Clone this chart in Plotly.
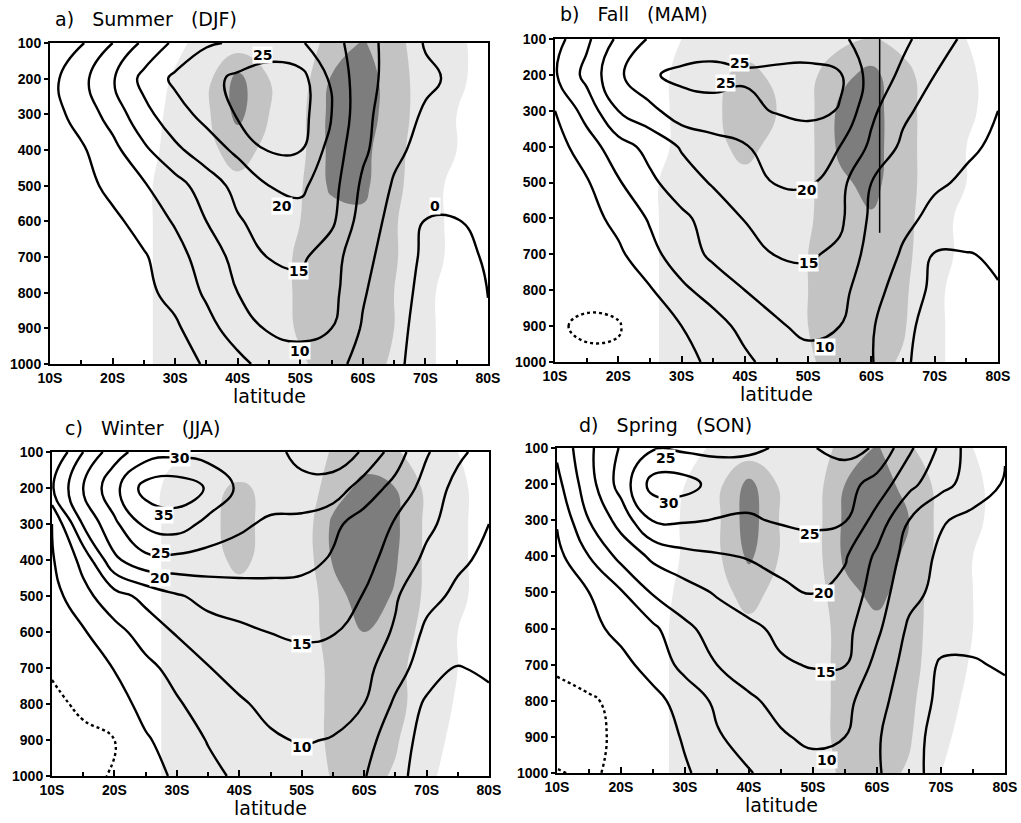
import plotly.graph_objects as go

# ---------------- data ----------------
LAT = [10, 15, 20, 25, 30, 35, 40, 45, 50, 55, 60, 65, 70, 75, 80]
PLEV = [100, 200, 300, 400, 500, 600, 700, 800, 900, 1000]
LAT_TICKS = [10, 20, 30, 40, 50, 60, 70, 80]
LAT_TICK_TEXT = ["10S", "20S", "30S", "40S", "50S", "60S", "70S", "80S"]
P_TICKS = [100, 200, 300, 400, 500, 600, 700, 800, 900, 1000]

# zonal wind (m/s), rows = pressure levels, columns = latitudes
U_DJF = [
    [-3, -0.5, 5, 11, 16, 19.5, 20.5, 21, 20.5, 17, 12, 8, 4.7, 3.5, 3],
    [-1.5, 3.5, 9.5, 16.5, 21, 23.5, 26, 28.5, 27, 19, 12, 8, 5.8, 4.2, 3.5],
    [-2, 2, 7, 13.5, 18, 21.5, 25.5, 28, 27, 20, 11.5, 7, 4.5, 3.5, 3],
    [-3, -0.7, 3.5, 9, 14, 17.5, 21, 25.3, 25.2, 18, 11, 6, 3.5, 3, 2.5],
    [-4, -2, 1.5, 4.5, 8, 12.5, 16.5, 20, 21, 17, 9, 4.5, 3, 2.5, 2],
    [-4.5, -3, -1.2, 2, 5.5, 10, 14.5, 17, 18, 16, 7.5, 3.5, -0.2, -0.2, 1],
    [-4.5, -3.5, -2, -0.5, 3, 7.5, 11.5, 15.2, 16, 12, 6.5, 2.5, -0.8, -0.8, 0.3],
    [-4.5, -4, -2.5, -1.2, 1.5, 5.8, 10, 12, 13, 11.5, 5.5, 1.5, -1, -1.5, 0.2],
    [-4.6, -4.5, -3, -2, -0.8, 3.2, 7.5, 10.5, 11.2, 10, 4.5, 1, -1.2, -1.5, -1.2],
    [-4.6, -4.6, -4, -3, -2, 0.5, 3.5, 7, 8, 6.5, 3.5, 0.5, -1, -1.2, -1.2],
]
U_MAM = [
    [3, 9, 16, 20.5, 22, 22.5, 23, 22.5, 22, 21, 17.5, 16, 12.5, 9, 7.5],
    [4.5, 11.5, 19, 24.5, 26, 26.5, 25.5, 26, 26.5, 25.5, 18, 14, 10, 8, 6.5],
    [0, 7, 15, 18.5, 23, 23.5, 24, 25.3, 26, 24.8, 16, 11, 8, 6.5, 5],
    [-2, 2.5, 8, 11.5, 15.5, 18, 19.7, 21.5, 22.5, 20, 14, 9, 6.5, 5.5, 4.5],
    [-3.5, -0.5, 4.5, 9, 12.5, 15.5, 18, 20.3, 20.5, 16.5, 10, 7, 5.5, 4.5, 3.5],
    [-4, -2, 1.5, 5.5, 9, 12, 15.2, 16.5, 17.5, 16, 9, 6, 4, 3, 2.5],
    [-4, -3, -1, 3.5, 7.5, 11, 13.5, 15.2, 15.6, 14, 8, 4.5, -0.3, -0.2, 0.5],
    [-4.5, -4.3, -3.5, -0.5, 4, 7, 10, 11.5, 13, 11.5, 7, 2.5, -1, -1, -0.2],
    [-4.7, -5.4, -5.3, -2, 0, 3, 6.5, 9.5, 11, 10, 5.5, 1, -1.5, -1.5, -1.5],
    [-4.5, -4.5, -4.3, -3, -1.5, 1, 4, 7, 8.5, 7.5, 5.3, 0.5, -1.5, -1.5, -1.5],
]
U_JJA = [
    [5, 15, 23, 27.5, 28.5, 28, 27.5, 28.5, 31.5, 32.5, 29.5, 22.5, 15.5, 11, 8],
    [9.5, 20, 28.5, 37, 38, 34.5, 29, 28, 28.5, 28, 22.5, 18.5, 13, 8.5, 5.5],
    [0, 15.5, 24, 31, 32.5, 28.5, 26, 24, 23.5, 21, 18, 14.5, 11, 8, 5],
    [-0.5, 6.5, 19, 23.5, 23.5, 23, 22.5, 22, 21.5, 19.5, 16.5, 13, 9, 5.8, 4],
    [-2, 3.5, 8, 11.5, 14.5, 16.5, 17.5, 18, 18, 17, 14.8, 10.5, 6.5, 4, 3],
    [-3, -0.5, 3.5, 7, 10.5, 13, 14, 15.1, 15.8, 15.3, 12.5, 9.5, 4, 2.5, 2],
    [-4.5, -3, 0.2, 3.8, 6.5, 9.8, 11.5, 12.5, 13, 13, 11.5, 7, 2.5, -0.3, 1],
    [-6, -4.2, -2, 1.5, 4.5, 7, 9.5, 11, 11.8, 11.5, 10, 4.2, -0.8, -1.5, -1.5],
    [-7, -6, -5, -0.5, 2, 5.3, 8, 9.5, 10.3, 9.8, 7, 2, -1.5, -2, -2],
    [-7, -6.5, -4.5, -2, 0.8, 3.5, 6, 7.5, 8, 7, 5.3, 1, -1.5, -2, -2],
]
U_SON = [
    [6, 14, 20.5, 24.5, 24, 24, 24.5, 25.3, 29.8, 31.5, 29.5, 21, 14, 7.5, 5.5],
    [3.5, 13, 22, 32, 32, 28, 27, 27, 27.5, 27, 23, 16.5, 11.5, 8, 4.5],
    [0.5, 10, 17, 25.3, 25.5, 24.8, 24.5, 25.5, 26, 25.3, 18, 10, 5.5, 3.5, 2.5],
    [-1.5, 5, 11.5, 16, 18.5, 19.5, 20.3, 21.5, 22.5, 20.5, 14, 8, 4, 2.5, 1.5],
    [-2.5, 0, 4.5, 10.5, 13, 15.5, 17.5, 19, 20.1, 18.5, 12.5, 6.5, 3.5, 2, 1.5],
    [-3.5, -1.5, 1.5, 4, 9, 12, 14, 16, 17, 16.5, 11, 4.2, 2, 1.5, 1],
    [-4.5, -3, -1.5, 2, 6.5, 10, 12.5, 14.5, 15.3, 15.2, 8.5, 3, -0.5, -0.4, 0.5],
    [-6, -5.5, -4, -1.5, 2, 6, 9.2, 11.5, 12.5, 11.5, 6.5, 2.5, -1, -1.5, -1.2],
    [-6.5, -6, -4.2, -2.5, 0.5, 4.5, 7, 9.5, 11, 10, 5.5, 1.5, -1.5, -2, -1.5],
    [-4.8, -5.5, -4.2, -3, -0.5, 2, 4.7, 7, 8, 7.5, 5.6, 1.3, -1.5, -2, -2],
]

# stippling category (0 none, 1 light, 2 medium, 3 dark)
SHADE_DJF = [
    [0, 0, 0, 0, 0.3, 0.8, 1, 1, 1, 1.8, 2.6, 1.8, 1, 0.6, 0.3],
    [0, 0, 0, 0, 0.6, 1.2, 2.8, 1.5, 1, 2.6, 3, 2, 1, 0.6, 0.3],
    [0, 0, 0, 0, 0.8, 1.3, 2.8, 1.5, 1.2, 2.8, 3, 2, 1, 0.5, 0.3],
    [0, 0, 0, 0, 1, 1.3, 1.8, 1.3, 1.2, 2.8, 2.8, 1.8, 1, 0.5, 0.3],
    [0, 0, 0, 0.3, 1, 1.2, 1.3, 1.2, 1.4, 2.7, 2.7, 1.8, 0.8, 0.3, 0.2],
    [0, 0, 0, 0.3, 1, 1.2, 1.2, 1.2, 1.5, 2, 2.3, 1.6, 0.8, 0.3, 0.2],
    [0, 0, 0, 0.3, 1, 1.2, 1.2, 1.2, 1.6, 2, 2, 1.6, 0.8, 0.3, 0],
    [0, 0, 0, 0.3, 1, 1.2, 1.2, 1.2, 1.6, 2, 2, 1.5, 0.6, 0.3, 0],
    [0, 0, 0, 0.3, 1, 1.2, 1.2, 1.1, 1.6, 2, 2, 1.5, 0.6, 0.3, 0],
    [0, 0, 0, 0.3, 1, 1.2, 1.1, 1.1, 1.4, 1.8, 1.8, 1.4, 0.6, 0.3, 0],
]
SHADE_MAM = [
    [0, 0, 0, 0, 0.5, 0.8, 1, 1, 1, 1.2, 1.6, 1.2, 0.8, 0.5, 0.2],
    [0, 0, 0, 0, 0.8, 1.2, 1.8, 1.3, 1.2, 2.2, 2.8, 1.8, 1, 0.6, 0.3],
    [0, 0, 0, 0, 0.8, 1.3, 2, 1.5, 1.2, 2.7, 2.9, 1.9, 1, 0.6, 0.3],
    [0, 0, 0, 0, 0.8, 1.3, 1.7, 1.3, 1.2, 2.7, 2.9, 1.9, 1, 0.5, 0.3],
    [0, 0, 0, 0.3, 1, 1.2, 1.3, 1.2, 1.3, 2.3, 2.8, 1.9, 1, 0.5, 0.3],
    [0, 0, 0, 0.3, 1, 1.2, 1.2, 1.2, 1.4, 2, 2.4, 1.9, 0.8, 0.3, 0.2],
    [0, 0, 0, 0.3, 1, 1.2, 1.2, 1.2, 1.5, 2, 2, 1.8, 0.8, 0.3, 0],
    [0, 0, 0, 0.3, 1, 1.2, 1.2, 1.2, 1.5, 2, 2, 1.7, 0.6, 0.3, 0],
    [0, 0, 0, 0.3, 1, 1.2, 1.2, 1.1, 1.5, 1.9, 2, 1.6, 0.6, 0.3, 0],
    [0, 0, 0, 0.3, 1, 1.1, 1.1, 1.1, 1.4, 1.8, 1.8, 1.4, 0.6, 0.3, 0],
]
SHADE_JJA = [
    [0, 0, 0, 0, 0.3, 0.5, 0.5, 0.5, 0.8, 1.6, 2, 1.6, 1, 0.5, 0.3],
    [0, 0, 0, 0, 1, 1.2, 1.7, 1.2, 0.8, 2, 2.8, 2.5, 1.3, 0.6, 0.3],
    [0, 0, 0, 0, 1, 1.3, 1.8, 1.2, 0.8, 2.7, 3, 2.7, 1.3, 0.6, 0.3],
    [0, 0, 0, 0, 1, 1.2, 1.7, 1.2, 0.8, 2.6, 3, 2.6, 1.3, 0.6, 0.3],
    [0, 0, 0, 0, 1, 1.2, 1.2, 1.2, 0.8, 2.1, 3, 2.4, 1.3, 0.6, 0.3],
    [0, 0, 0, 0, 1, 1.2, 1.2, 1.2, 0.8, 2, 2.5, 2, 1.2, 0.5, 0.3],
    [0, 0, 0, 0, 1, 1.2, 1.2, 1.2, 0.7, 1.8, 2, 1.8, 1, 0.5, 0.2],
    [0, 0, 0, 0, 1, 1.2, 1.2, 1.2, 0.7, 1.8, 2, 1.8, 1, 0.4, 0.2],
    [0, 0, 0, 0, 1, 1.2, 1.2, 1.2, 0.7, 1.8, 2, 1.6, 0.8, 0.3, 0],
    [0, 0, 0, 0, 1, 1.2, 1.2, 1.2, 0.7, 1.6, 1.8, 1.4, 0.6, 0.3, 0],
]
SHADE_SON = [
    [0, 0, 0, 0, 0.3, 0.6, 0.8, 0.8, 1, 1.8, 2.6, 1.6, 1, 0.5, 0.3],
    [0, 0, 0, 0, 0.5, 1.2, 2.8, 1.3, 1, 2.5, 2.9, 2.2, 1.2, 0.6, 0.3],
    [0, 0, 0, 0, 0.6, 1.3, 3, 1.4, 1, 2.7, 3, 2.5, 1.2, 0.6, 0.3],
    [0, 0, 0, 0, 0.6, 1.3, 2.7, 1.4, 1, 2.7, 3, 2.3, 1.2, 0.5, 0.3],
    [0, 0, 0, 0, 0.8, 1.2, 1.8, 1.2, 1, 2.2, 2.8, 2, 1, 0.5, 0.3],
    [0, 0, 0, 0, 1, 1.2, 1.3, 1.2, 1, 1.9, 2.2, 1.9, 1, 0.5, 0.2],
    [0, 0, 0, 0, 1, 1.2, 1.2, 1.2, 1, 1.9, 2, 1.8, 1, 0.4, 0.2],
    [0, 0, 0, 0, 1, 1.2, 1.2, 1.2, 1, 1.9, 2, 1.7, 0.8, 0.3, 0],
    [0, 0, 0, 0, 1, 1.2, 1.2, 1.2, 1, 1.9, 2, 1.6, 0.6, 0.3, 0],
    [0, 0, 0, 0, 1, 1.2, 1.2, 1.2, 1, 1.7, 1.8, 1.4, 0.5, 0.3, 0],
]

PANEL_TITLES = ["a)   Summer   (DJF)", "b)   Fall   (MAM)", "c)   Winter   (JJA)", "d)   Spring   (SON)"]

# contour labels: (latitude, pressure, text)
LABELS_DJF = [(44, 134, "25"), (47, 557, "20"), (49.7, 739, "15"), (50, 963, "10"), (71.5, 557, "0")]
LABELS_MAM = [(39.2, 167, "25"), (36.9, 223, "25"), (49.8, 521, "20"), (50, 725, "15"), (52.7, 957, "10")]
LABELS_JJA = [(30.5, 117, "30"), (27.8, 274, "35"), (27.3, 380, "25"), (27.3, 450, "20"), (50, 634, "15"), (50, 920, "10")]
LABELS_SON = [(27, 127, "25"), (27.5, 251, "30"), (49.4, 338, "25"), (51.7, 502, "20"), (52, 719, "15"), (52.2, 963, "10")]

# straight vertical line drawn in panel b
B_VLINE_LAT = [61.3, 61.3]
B_VLINE_P = [100, 640]

# ---------------- layout boxes (pixels in the 1021x823 page) ----------------
W, H = 1021, 823
BOXES = [  # left, right, top, bottom
    (50, 488, 43, 364),
    (555, 998, 39, 362),
    (52, 489, 452, 776),
    (557, 1005, 448, 773),
]
TITLE_POS = [(53, 19), (558, 14), (63, 428), (577, 425)]

U_ALL = [U_DJF, U_MAM, U_JJA, U_SON]
SHADE_ALL = [SHADE_DJF, SHADE_MAM, SHADE_JJA, SHADE_SON]
LABELS_ALL = [LABELS_DJF, LABELS_MAM, LABELS_JJA, LABELS_SON]

C_W, C_L, C_M, C_D = "#ffffff", "#e9e9e9", "#c3c3c3", "#7d7d7d"
SHADE_SCALE = [[0, C_W], [1 / 6, C_W], [1 / 6, C_L], [0.5, C_L], [0.5, C_M],
               [5 / 6, C_M], [5 / 6, C_D], [1, C_D]]
BLACK = [[0, "black"], [1, "black"]]

fig = go.Figure()
layout = dict(width=W, height=H, margin=dict(l=0, r=0, t=0, b=0, pad=0, autoexpand=False),
              paper_bgcolor="white", plot_bgcolor="white", showlegend=False,
              template="none")
annotations = []
TICKFONT = dict(family="Liberation Sans Narrow, Liberation Sans, Arial, sans-serif",
                size=14, color="black", weight="bold")

for k in range(4):
    xa = "x" if k == 0 else f"x{k + 1}"
    ya = "y" if k == 0 else f"y{k + 1}"
    l, r, t, b = BOXES[k]
    xkey = "xaxis" if k == 0 else f"xaxis{k + 1}"
    ykey = "yaxis" if k == 0 else f"yaxis{k + 1}"
    layout[xkey] = dict(
        domain=[l / W, r / W], anchor=ya, range=[10, 80], automargin=False,
        tickmode="array", tickvals=LAT_TICKS, ticktext=LAT_TICK_TEXT,
        ticks="inside", ticklen=6, tickwidth=1.5, tickcolor="black",
        minor=dict(tickmode="linear", tick0=10, dtick=5, ticks="inside", ticklen=4, tickcolor="black"),
        showline=True, linecolor="black", linewidth=2, mirror=True,
        showgrid=False, zeroline=False, tickfont=TICKFONT,
    )
    layout[ykey] = dict(
        domain=[1 - b / H, 1 - t / H], anchor=xa, range=[1000, 100], automargin=False,
        tickmode="array", tickvals=P_TICKS,
        ticks="outside", ticklen=4, tickwidth=1.5, tickcolor="black",
        showline=True, linecolor="black", linewidth=2, mirror=True,
        showgrid=False, zeroline=False, tickfont=TICKFONT,
    )

    # stippled shading
    fig.add_trace(go.Contour(
        x=LAT, y=PLEV, z=SHADE_ALL[k], xaxis=xa, yaxis=ya,
        contours=dict(start=0.5, end=2.5, size=1, coloring="fill", showlines=False),
        colorscale=SHADE_SCALE, showscale=False, line=dict(width=0, smoothing=1.3),
        hoverinfo="skip",
    ))
    # positive / zero wind contours (solid)
    fig.add_trace(go.Contour(
        x=LAT, y=PLEV, z=U_ALL[k], xaxis=xa, yaxis=ya,
        contours=dict(start=0, end=35, size=5, coloring="lines"),
        colorscale=BLACK, showscale=False, line=dict(width=2.4, smoothing=1.3),
        hoverinfo="skip",
    ))
    # negative contours (dotted)
    fig.add_trace(go.Contour(
        x=LAT, y=PLEV, z=U_ALL[k], xaxis=xa, yaxis=ya,
        contours=dict(start=-5, end=-5, size=5, coloring="lines"),
        colorscale=BLACK, showscale=False, line=dict(width=2.4, dash="dot", smoothing=1.3),
        hoverinfo="skip",
    ))

    for (la, pp, txt) in LABELS_ALL[k]:
        annotations.append(dict(
            x=la, y=pp, xref=xa, yref=ya, text=f"<b>{txt}</b>", showarrow=False,
            font=dict(family="DejaVu Sans", size=14, color="black"),
            bgcolor="white", borderpad=0,
        ))

    tx, ty = TITLE_POS[k]
    annotations.append(dict(
        x=tx / W, y=1 - ty / H, xref="paper", yref="paper", xanchor="left", yanchor="middle",
        text=PANEL_TITLES[k], showarrow=False,
        font=dict(family="DejaVu Sans", size=19, color="black"),
    ))
    annotations.append(dict(
        x=(l + r) / 2 / W, y=1 - (b + 32) / H, xref="paper", yref="paper",
        xanchor="center", yanchor="middle", text="latitude", showarrow=False,
        font=dict(family="DejaVu Sans", size=19, color="black"),
    ))

fig.add_trace(go.Scatter(x=B_VLINE_LAT, y=B_VLINE_P, xaxis="x2", yaxis="y2", mode="lines",
                         line=dict(color="black", width=1.5), hoverinfo="skip"))

layout["annotations"] = annotations
fig.update_layout(**layout)
fig.write_html(
    "out.html",
    config={"displayModeBar": False},
    post_script="document.body.style.margin='0';document.body.style.overflow='hidden';",
)
